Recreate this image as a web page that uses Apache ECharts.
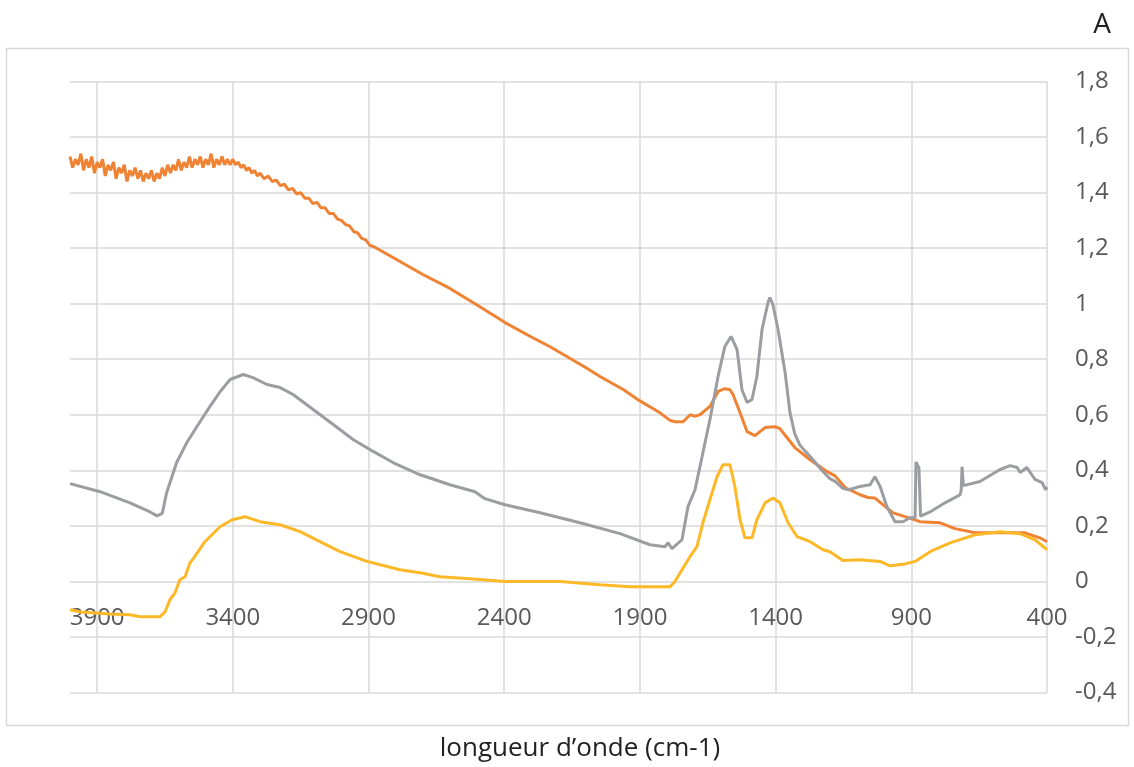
<!DOCTYPE html>
<html>
<head>
<meta charset="utf-8">
<script src="https://cdn.jsdelivr.net/npm/echarts@6/dist/echarts.min.js"></script>
<style>
html,body{margin:0;padding:0;background:#fff;}
#chart{width:1134px;height:767px;}
</style>
</head>
<body>
<div id="chart"></div>
<script>
// ---- data (wavenumber in cm-1, absorbance A) ----
const xTickValues = [400, 900, 1400, 1900, 2400, 2900, 3400, 3900];

const orangeWave = [4000,3990,3980,3970,3960,3950,3940,3930,3920,3910,3900,3890,3880,3870,3860,3850,3840,3830,3820,3810,3800,3790,3780,3770,3760,3750,3740,3730,3720,3710,3700,3690,3680,3670,3660,3650,3640,3630,3620,3610,3600,3590,3580,3570,3560,3550,3540,3530,3520,3510,3500,3490,3480,3470,3460,3450,3440,3430,3420,3410,3400,3390,3380,3370,3360,3350,3340,3330,3320,3310,3300,3285,3270,3255,3240,3225,3210,3195,3180,3165,3150,3135,3120,3105,3090,3075,3060,3045,3030,3015,3000,2985,2970,2955,2940,2925,2910,2895,2880,2784,2700,2600,2500,2397,2300,2231,2100,2047,1960,1900,1826,1789,1770,1741,1715,1700,1690,1679,1642,1612,1587,1568,1557,1531,1505,1476,1439,1402,1384,1373,1329,1273,1218,1181,1144,1089,1060,1034,990,967,923,868,794,739,665,573,481,426,400];
const orangeAbs = [1.53,1.49,1.52,1.50,1.54,1.48,1.52,1.49,1.53,1.47,1.51,1.49,1.52,1.46,1.50,1.48,1.51,1.45,1.49,1.47,1.50,1.44,1.48,1.46,1.49,1.45,1.48,1.44,1.47,1.45,1.48,1.44,1.47,1.45,1.49,1.46,1.50,1.47,1.50,1.48,1.52,1.48,1.51,1.49,1.53,1.49,1.52,1.50,1.53,1.49,1.52,1.50,1.54,1.49,1.52,1.50,1.53,1.50,1.52,1.50,1.52,1.50,1.51,1.49,1.50,1.48,1.49,1.47,1.48,1.46,1.47,1.45,1.46,1.44,1.445,1.425,1.43,1.41,1.415,1.395,1.40,1.38,1.38,1.36,1.365,1.345,1.345,1.325,1.325,1.305,1.30,1.285,1.28,1.26,1.255,1.235,1.23,1.21,1.205,1.152,1.105,1.055,0.995,0.932,0.88,0.845,0.77,0.738,0.69,0.65,0.607,0.58,0.575,0.575,0.60,0.595,0.597,0.60,0.63,0.684,0.694,0.69,0.673,0.607,0.539,0.525,0.554,0.557,0.55,0.536,0.482,0.438,0.40,0.38,0.338,0.312,0.302,0.30,0.265,0.247,0.233,0.215,0.211,0.19,0.175,0.175,0.175,0.157,0.143];

const grayWave = [4000,3889,3779,3705,3679,3660,3644,3607,3570,3521,3484,3447,3410,3362,3326,3274,3226,3178,3104,3030,2957,2883,2810,2710,2600,2508,2471,2397,2268,2121,1973,1863,1808,1796,1782,1745,1723,1697,1671,1642,1612,1587,1564,1542,1524,1505,1487,1469,1450,1428,1421,1410,1391,1365,1347,1329,1310,1292,1273,1255,1230,1200,1181,1152,1130,1089,1052,1034,1015,990,960,931,905,886,883,878,872,866,861,831,776,720,716,713,708,702,647,573,536,510,499,474,444,418,405,400];
const grayAbs = [0.352,0.323,0.283,0.25,0.236,0.245,0.319,0.428,0.499,0.575,0.63,0.683,0.727,0.745,0.734,0.709,0.698,0.673,0.619,0.565,0.511,0.468,0.428,0.384,0.348,0.323,0.298,0.276,0.247,0.211,0.172,0.132,0.125,0.139,0.118,0.15,0.269,0.33,0.449,0.583,0.738,0.846,0.882,0.835,0.69,0.644,0.655,0.738,0.907,1.004,1.022,0.997,0.907,0.752,0.607,0.53,0.49,0.47,0.45,0.43,0.40,0.37,0.36,0.335,0.33,0.342,0.348,0.377,0.342,0.27,0.215,0.215,0.229,0.229,0.43,0.42,0.41,0.235,0.233,0.25,0.283,0.312,0.33,0.413,0.345,0.345,0.36,0.403,0.417,0.41,0.392,0.41,0.367,0.356,0.33,0.34];

const yellowWave = [4000,3960,3853,3780,3742,3668,3650,3632,3613,3595,3576,3558,3540,3503,3447,3403,3355,3300,3226,3152,3079,3005,2906,2784,2710,2637,2526,2397,2194,2047,1937,1789,1771,1745,1715,1690,1668,1642,1616,1594,1568,1550,1531,1513,1487,1469,1439,1410,1384,1354,1321,1273,1225,1200,1152,1089,1015,978,923,886,831,757,665,573,499,444,400];
const yellowAbs = [-0.102,-0.11,-0.117,-0.12,-0.127,-0.127,-0.11,-0.066,-0.041,0.006,0.017,0.067,0.09,0.143,0.197,0.222,0.233,0.215,0.204,0.179,0.143,0.107,0.072,0.042,0.031,0.017,0.01,0.0,0.0,-0.012,-0.019,-0.019,0.0,0.042,0.09,0.125,0.211,0.294,0.377,0.42,0.42,0.341,0.222,0.157,0.157,0.222,0.283,0.30,0.283,0.211,0.161,0.143,0.114,0.107,0.075,0.078,0.072,0.056,0.063,0.072,0.107,0.139,0.168,0.179,0.172,0.15,0.114];

function zip(xs, ys){ return xs.map((x,i)=>[x, ys[i]]); }

const chart = echarts.init(document.getElementById('chart'), null, {renderer:'canvas'});
const font = '"Open Sans", "DejaVu Sans", sans-serif';
const gridColor = '#d9d9d9';
const Y_MIN = -0.4, Y_MAX = 1.8;
const GRID_TOP = 81.5, GRID_BOTTOM = 74.5, CHART_H = 767;
// shift the x axis (labels) up so it sits on the y = 0 gridline, as in the original
const plotH = CHART_H - GRID_TOP - GRID_BOTTOM;
const zeroOffset = -plotH * (0 - Y_MIN) / (Y_MAX - Y_MIN);

chart.setOption({
  animation: false,
  backgroundColor: '#ffffff',
  textStyle: { fontFamily: font },
  graphic: [
    { type: 'rect', shape: { x: 6.5, y: 48.5, width: 1122, height: 677 },
      style: { fill: 'none', stroke: gridColor, lineWidth: 1.5 }, silent: true, z: -10 },
    { type: 'text', x: 1102, y: 25,
      style: { text: 'A', font: '28px ' + font, fill: '#222', align: 'center', verticalAlign: 'middle' } },
    { type: 'text', x: 580, y: 749,
      style: { text: 'longueur d’onde (cm-1)', font: '26px ' + font, fill: '#222', align: 'center', verticalAlign: 'middle' } }
  ],
  grid: { left: 70, right: 87, top: GRID_TOP, bottom: GRID_BOTTOM, containLabel: false, outerBoundsMode: 'none' },
  xAxis: {
    type: 'value', inverse: true, min: 400, max: 4000, position: 'bottom', offset: zeroOffset,
    axisLine: { show: false, onZero: false },
    axisTick: { show: false, customValues: xTickValues },
    axisLabel: { customValues: xTickValues, fontSize: 24, color: '#595959', margin: 25, fontFamily: font,
      formatter: v => String(v) },
    splitLine: { show: true, lineStyle: { color: gridColor, width: 1.5 } }
  },
  yAxis: {
    type: 'value', position: 'right', min: Y_MIN, max: Y_MAX, interval: 0.2,
    axisLine: { show: false }, axisTick: { show: false },
    axisLabel: { fontSize: 24, color: '#595959', margin: 28, align: 'left', fontFamily: font,
      formatter: v => (Math.round(v*10)/10).toString().replace('.', ',') },
    splitLine: { show: true, lineStyle: { color: gridColor, width: 1.5 } }
  },
  series: [
    { type: 'line', data: zip(orangeWave, orangeAbs), showSymbol: false, color: '#F08234',
      lineStyle: { width: 3, color: '#F08234' } },
    { type: 'line', data: zip(grayWave, grayAbs), showSymbol: false, color: '#9B9DA0',
      lineStyle: { width: 3, color: '#9B9DA0' } },
    { type: 'line', data: zip(yellowWave, yellowAbs), showSymbol: false, color: '#FDB827',
      lineStyle: { width: 3, color: '#FDB827' } }
  ]
});
</script>
</body>
</html>
